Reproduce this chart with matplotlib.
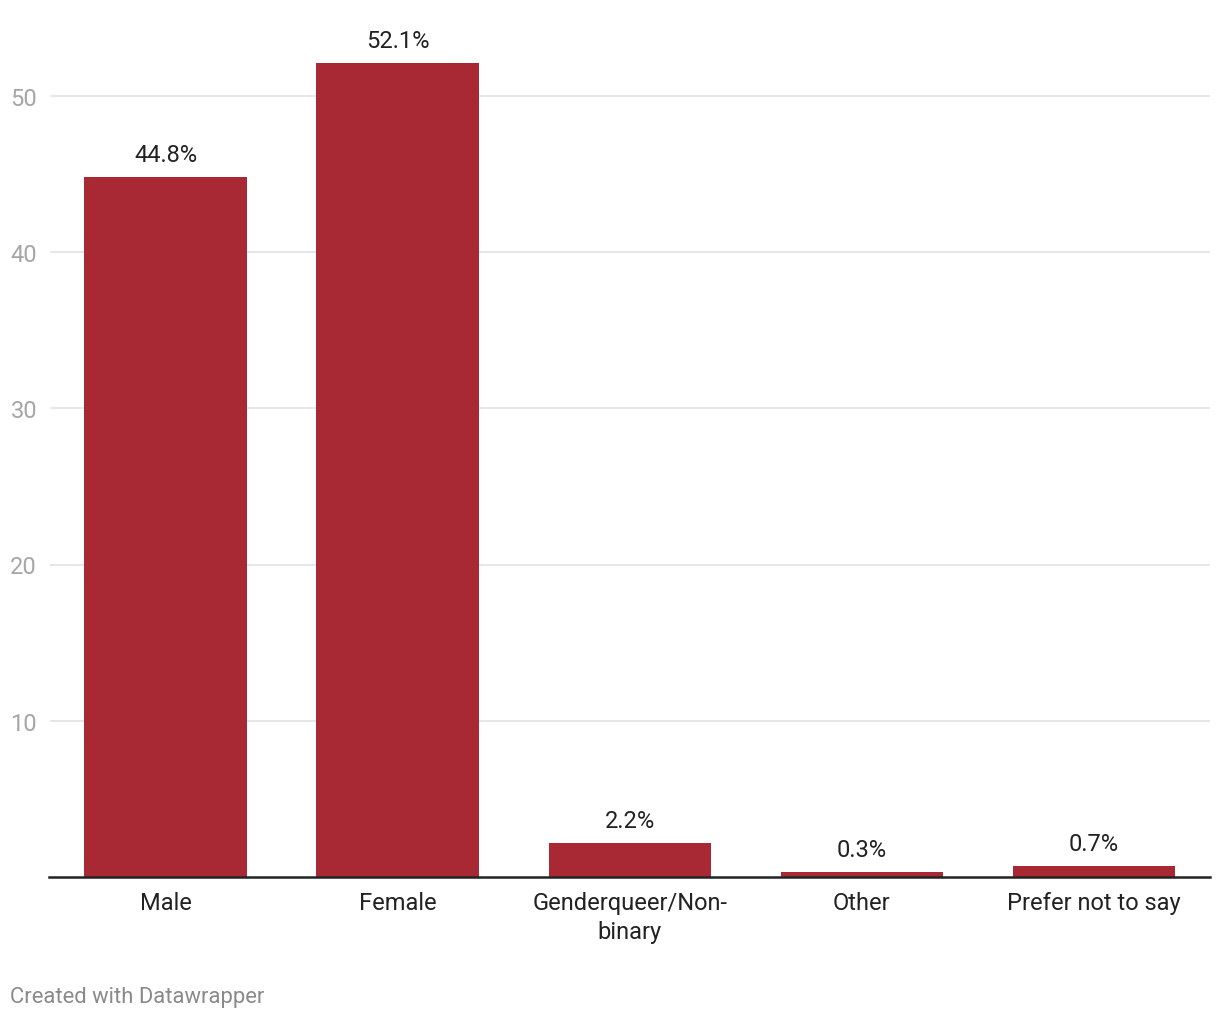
import matplotlib.pyplot as plt

plt.rcParams['font.family'] = ['Roboto', 'DejaVu Sans']

categories = ["Male", "Female", "Genderqueer/Non-\nbinary", "Other", "Prefer not to say"]
shares = [44.8, 52.1, 2.2, 0.3, 0.7]
labels = ["44.8%", "52.1%", "2.2%", "0.3%", "0.7%"]
yticks = [10, 20, 30, 40, 50]

bar_color = "#a82933"

fig = plt.figure(figsize=(12.2, 10.2), dpi=100)
ax = fig.add_axes([49.5 / 1220, 142 / 1020, (1210 - 49.5) / 1220, (878 - 3) / 1020])

x = range(len(categories))
bars = ax.bar(x, shares, width=0.70, color=bar_color, zorder=3)

for b, lab in zip(bars, labels):
    ax.annotate(lab, (b.get_x() + b.get_width() / 2, b.get_height()),
                xytext=(0, 8), textcoords="offset points",
                ha="center", va="bottom", fontsize=17, color="#222222")

ax.set_xlim(-0.5, len(categories) - 0.5)
ax.set_ylim(0, 56)
ax.set_yticks(yticks)
ax.set_yticklabels([str(v) for v in yticks])
ax.set_xticks(list(x))
ax.set_xticklabels(categories, fontsize=17, color="#222222", linespacing=1.35)

ax.tick_params(axis="x", length=0, pad=10)
ax.tick_params(axis="y", length=0, pad=9, labelsize=17, labelcolor="#a6a6a6")
ax.grid(axis="y", color="#e2e2e2", linewidth=1.2, zorder=0)

for s in ["top", "right", "left"]:
    ax.spines[s].set_visible(False)
ax.spines["bottom"].set_color("#222222")
ax.spines["bottom"].set_linewidth(1.8)
ax.spines["bottom"].set_zorder(4)

fig.text(10 / 1220, 1 - 998 / 1020, "Created with Datawrapper",
         ha="left", va="center", fontsize=15.8, color="#8a8a8a")

fig.savefig("out.png", dpi=100)
